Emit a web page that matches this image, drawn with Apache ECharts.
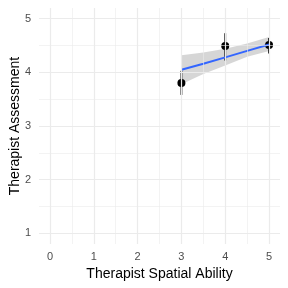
<!DOCTYPE html>
<html><head><meta charset="utf-8">
<script src="https://cdn.jsdelivr.net/npm/echarts@6/dist/echarts.min.js"></script>
<style>html,body{margin:0;padding:0;background:#fff}#c{width:288px;height:288px}</style>
</head><body><div id="c"></div>
<script>
var xTicks = [0, 1, 2, 3, 4, 5];
var xMinor = [0.5, 1.5, 2.5, 3.5, 4.5];
var yTicks = [1, 2, 3, 4, 5];
var yMinor = [1.5, 2.5, 3.5, 4.5];
var xs = [3, 4, 5];
var means = [3.8, 4.49, 4.51];
var lows = [3.58, 4.22, 4.35];
var highs = [4.03, 4.73, 4.64];
var fitX = [3, 3.5, 4, 4.5, 5];
var fitY = [4.05, 4.16, 4.28, 4.40, 4.52];
var bandLo = [3.78, 3.97, 4.13, 4.29, 4.40];
var bandHi = [4.32, 4.37, 4.44, 4.54, 4.66];

var font = 'Liberation Sans, Arial, sans-serif';
function gl(arr, key, w) {
  return arr.map(function (v) { var o = {}; o[key] = v; o.lineStyle = {width: w}; return o; });
}
var chart = echarts.init(document.getElementById('c'));
chart.setOption({
  animation: false,
  backgroundColor: '#fff',
  grid: {left: 39, right: 8, top: 8, bottom: 44, containLabel: false, outerBoundsMode: 'none'},
  xAxis: {
    type: 'value', min: -0.25, max: 5.25,
    name: 'Therapist Spatial Ability', nameLocation: 'middle', nameGap: 23, nameMoveOverlap: false,
    nameTextStyle: {color: '#000', fontSize: 14, fontFamily: font},
    axisLine: {show: false}, axisTick: {show: false}, splitLine: {show: false},
    axisLabel: {customValues: xTicks, color: '#4d4d4d', fontSize: 11, fontFamily: font, margin: 7}
  },
  yAxis: {
    type: 'value', min: 0.8, max: 5.2,
    name: 'Therapist Assessment', nameLocation: 'middle', nameGap: 17, nameMoveOverlap: false,
    nameTextStyle: {color: '#000', fontSize: 14, fontFamily: font},
    axisLine: {show: false}, axisTick: {show: false}, splitLine: {show: false},
    axisLabel: {customValues: yTicks, color: '#4d4d4d', fontSize: 11, fontFamily: font, margin: 8}
  },
  series: [
    {
      type: 'line', data: [], silent: true,
      markLine: {
        silent: true, symbol: 'none', label: {show: false},
        lineStyle: {color: '#ebebeb', type: 'solid'},
        data: gl(xMinor, 'xAxis', 0.6).concat(gl(yMinor, 'yAxis', 0.6))
          .concat(gl(xTicks, 'xAxis', 1.2)).concat(gl(yTicks, 'yAxis', 1.2))
      }
    },
    {
      type: 'custom', silent: true,
      data: [[fitX[0], bandLo[0]]],
      renderItem: function (params, api) {
        var pts = [];
        for (var i = 0; i < fitX.length; i++) pts.push(api.coord([fitX[i], bandHi[i]]));
        for (var j = fitX.length - 1; j >= 0; j--) pts.push(api.coord([fitX[j], bandLo[j]]));
        return {type: 'polygon', shape: {points: pts}, style: {fill: 'rgba(153,153,153,0.4)'}};
      }
    },
    {
      type: 'line', symbol: 'none', silent: true,
      data: fitX.map(function (x, i) { return [x, fitY[i]]; }),
      lineStyle: {color: '#3366FF', width: 2}
    },
    {
      type: 'custom', silent: true,
      data: xs.map(function (x, i) { return [x, lows[i], highs[i]]; }),
      renderItem: function (params, api) {
        var a = api.coord([api.value(0), api.value(1)]);
        var b = api.coord([api.value(0), api.value(2)]);
        return {type: 'line', shape: {x1: a[0], y1: a[1], x2: b[0], y2: b[1]},
          style: {stroke: '#000', lineWidth: 1.8}};
      }
    },
    {
      type: 'scatter', silent: true, symbolSize: 8,
      data: xs.map(function (x, i) { return [x, means[i]]; }),
      itemStyle: {color: '#000', opacity: 1, borderWidth: 0}
    }
  ]
});
</script></body></html>
